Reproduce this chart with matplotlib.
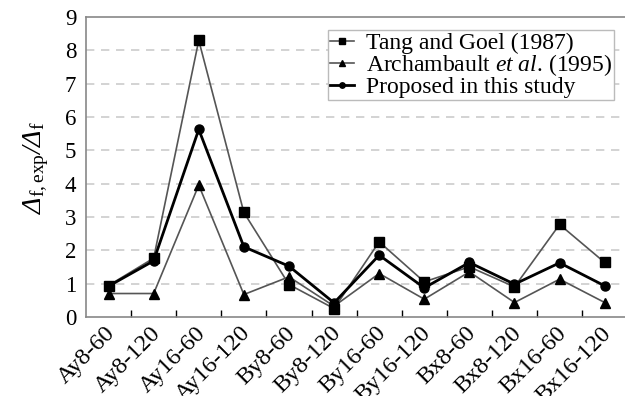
import numpy as np
import matplotlib.pyplot as plt
import matplotlib.transforms as mtransforms

plt.rcParams['font.family'] = 'Liberation Serif'
plt.rcParams['mathtext.fontset'] = 'custom'
# Greek capitals are drawn from the rm font, so make it italic for the Delta
plt.rcParams['mathtext.rm'] = 'Liberation Serif:italic'
plt.rcParams['mathtext.it'] = 'Liberation Serif:italic'
plt.rcParams['mathtext.sf'] = 'Liberation Serif'

# specimen labels and ratio values
specimens = ['Ay8-60', 'Ay8-120', 'Ay16-60', 'Ay16-120', 'By8-60', 'By8-120',
             'By16-60', 'By16-120', 'Bx8-60', 'Bx8-120', 'Bx16-60', 'Bx16-120']
tang_goel = [0.95, 1.77, 8.3, 3.14, 0.98, 0.26, 2.26, 1.06, 1.51, 0.91, 2.78, 1.64]
archambault = [0.71, 0.71, 3.96, 0.68, 1.21, 0.33, 1.31, 0.54, 1.36, 0.44, 1.14, 0.44]
proposed = [0.93, 1.69, 5.63, 2.11, 1.53, 0.43, 1.86, 0.88, 1.64, 0.99, 1.63, 0.94]

x = np.arange(len(specimens))

fig = plt.figure(figsize=(6.25, 3.96), dpi=100)
ax = fig.add_axes([0.1376, 0.199, 0.866, 0.758])

ax.plot(x, tang_goel, color='#555555', lw=1.2, marker='s', ms=6.5,
        mfc='black', mec='black', label='Tang and Goel (1987)')
ax.plot(x, archambault, color='#555555', lw=1.2, marker='^', ms=6.5,
        mfc='black', mec='black', label='Archambault $\\it{et\\ al}$. (1995)')
ax.plot(x, proposed, color='black', lw=2, marker='o', ms=6.5,
        label='Proposed in this study')

ax.set_xlim(-0.5, len(specimens) - 0.5)
ax.set_ylim(0, 9)
ax.set_yticks(range(10))
ax.tick_params(axis='y', length=0, labelsize=16.5, pad=7)
ax.set_xticks(x)
ax.set_xticklabels(specimens, rotation=45, ha='right', rotation_mode='anchor', fontsize=17.5)
ax.tick_params(axis='x', length=0, pad=4)
shift = mtransforms.ScaledTranslation(-4 / 100, 0, fig.dpi_scale_trans)
for lbl in ax.get_xticklabels():
    lbl.set_transform(lbl.get_transform() + shift)
ax.set_xticks(np.arange(0.5, len(specimens) - 1, 1), minor=True)
ax.tick_params(axis='x', which='minor', direction='in', length=5, color='black', width=1)

for yv in range(1, 9):
    ax.axhline(yv, color='#cccccc', lw=1.2, ls=(0, (5, 4)), zorder=0)

for s in ['left', 'bottom', 'top']:
    ax.spines[s].set_color('#888888')
    ax.spines[s].set_linewidth(1.2)
ax.spines['right'].set_visible(False)

ax.set_ylabel('$\\Delta_{\\mathsf{f,exp}}/\\Delta_{\\mathsf{f}}$', fontsize=20, labelpad=10)

leg = ax.legend(loc='upper right', bbox_to_anchor=(0.998, 0.995), fontsize=17, handlelength=1.0,
                handletextpad=0.5, labelspacing=-0.08, borderpad=0.1, markerscale=0.6,
                fancybox=False, framealpha=1)
leg.get_frame().set_edgecolor('#bbbbbb')

fig.savefig('out.png', dpi=100)
